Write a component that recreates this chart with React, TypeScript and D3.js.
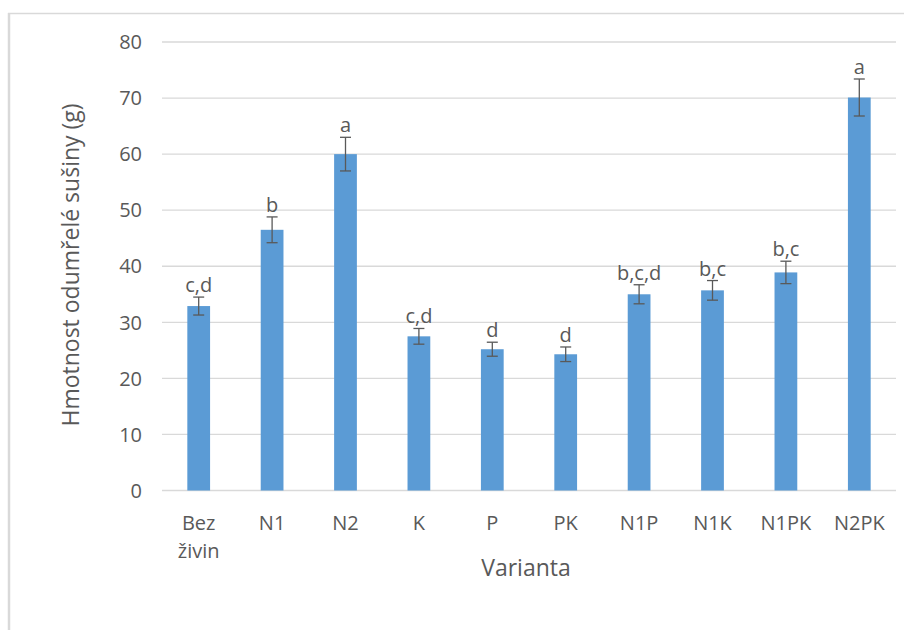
import React from "react";
import * as d3 from "d3";

const categories = ["Bez\nživin", "N1", "N2", "K", "P", "PK", "N1P", "N1K", "N1PK", "N2PK"];
const values = [32.9, 46.5, 60.0, 27.5, 25.2, 24.3, 35.0, 35.7, 38.9, 70.1];
const errors = [1.6, 2.3, 3.0, 1.4, 1.25, 1.3, 1.7, 1.75, 2.0, 3.3];
const letters = ["c,d", "b", "a", "c,d", "d", "d", "b,c,d", "b,c", "b,c", "a"];
const yTicks = [0, 10, 20, 30, 40, 50, 60, 70, 80];

const W = 904;
const H = 630;
const FONT = "'Open Sans', sans-serif";
const TXT = "#595959";

export default function App() {
  const x = d3.scaleBand<string>().domain(categories).range([162, 896]).paddingInner(0.69).paddingOuter(0.345);
  const y = d3.scaleLinear().domain([0, 80]).range([490.5, 42]);
  const bw = x.bandwidth();
  return (
    <svg width={W} height={H} style={{ position: "absolute", left: 0, top: 0, background: "#fff" }} fontFamily={FONT}>
      <line x1={8} x2={W} y1={13.5} y2={13.5} stroke="#d9d9d9" strokeWidth={1.5} />
      <line x1={9} x2={9} y1={13} y2={H} stroke="#d9d9d9" strokeWidth={2.5} />
      {yTicks.map((t) => (
        <g key={t}>
          <line x1={162} x2={896} y1={y(t)} y2={y(t)} stroke="#d9d9d9" strokeWidth={1.3} />
          <text x={142} y={y(t)} dy="0.36em" textAnchor="end" fontSize={20} fill={TXT}>
            {t}
          </text>
        </g>
      ))}
      {categories.map((c, i) => {
        const cx = (x(c) as number) + bw / 2;
        const top = y(values[i] + errors[i]);
        const bot = y(values[i] - errors[i]);
        return (
          <g key={c}>
            <rect x={x(c)} y={y(values[i])} width={bw} height={y(0) - y(values[i])} fill="#5b9bd5" />
            <line x1={cx} x2={cx} y1={top} y2={bot} stroke={TXT} strokeWidth={1.3} />
            <line x1={cx - 5.5} x2={cx + 5.5} y1={top} y2={top} stroke={TXT} strokeWidth={1.3} />
            <line x1={cx - 5.5} x2={cx + 5.5} y1={bot} y2={bot} stroke={TXT} strokeWidth={1.3} />
            <text x={cx} y={top - 5} textAnchor="middle" fontSize={20} fill={TXT}>
              {letters[i]}
            </text>
            {c.split("\n").map((line, j) => (
              <text key={j} x={cx} y={530 + j * 28} textAnchor="middle" fontSize={20} fill={TXT}>
                {line}
              </text>
            ))}
          </g>
        );
      })}
      <text x={526} y={576} textAnchor="middle" fontSize={23} fill={TXT}>
        Varianta
      </text>
      <text transform={`translate(79,265) rotate(-90)`} textAnchor="middle" fontSize={23} fill={TXT}>
        Hmotnost odumřelé sušiny (g)
      </text>
    </svg>
  );
}
